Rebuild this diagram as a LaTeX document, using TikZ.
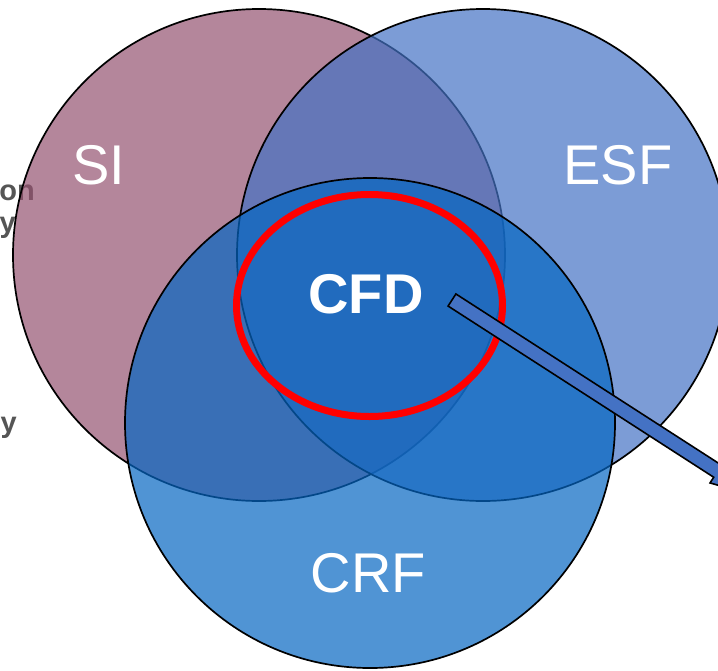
\documentclass[tikz,border=0pt]{standalone}
\usepackage{fontspec}
\setmainfont{Liberation Sans}
\usetikzlibrary{shapes.geometric}
\definecolor{sicol}{RGB}{148,82,112}
\definecolor{esfcol}{RGB}{68,114,196}
\definecolor{crfcol}{RGB}{5,102,194}
\definecolor{arrowcol}{RGB}{68,114,196}
\definecolor{sidegray}{RGB}{85,85,85}
\begin{document}
\begin{tikzpicture}[x=1pt,y=-1pt,
  venn/.style={circle, draw=black, line width=1.7pt, fill opacity=0.7, minimum size=492pt, inner sep=0pt, outer sep=0pt},
  lbl/.style={text=white, font=\fontsize{56}{60}\selectfont, inner sep=0pt},
  sidetxt/.style={text=sidegray, font=\bfseries\fontsize{29}{31}\selectfont, inner sep=0pt, anchor=base east},
  ring/.style={ellipse, draw=red, line width=7pt, minimum width=266pt, minimum height=222pt, inner sep=0pt},
  pointer/.style={fill=arrowcol, draw=black, line width=1.6pt, line join=miter}]
\useasboundingbox (0,0) rectangle (718,670);
\clip (0,0) rectangle (718,670);
% partly hidden side texts
\node[sidetxt] (t1) at (35,200) {on};
\node[sidetxt] (t2) at (16,232) {y};
\node[sidetxt] (t3) at (17,432) {y};
% circles
\node[venn, fill=sicol] (si) at (259,255) {};
\node[venn, fill=esfcol] (esf) at (483,255) {};
\node[venn, fill=crfcol, minimum size=490pt] (crf) at (370,423) {};
% labels
\node[lbl] (silbl) at (99,165) {SI};
\node[lbl] (esflbl) at (618,165) {ESF};
\node[lbl] (crflbl) at (368.5,573) {CRF};
% focus ring
\node[ring] (cfdring) at (369.5,305.5) {};
\node[lbl, font=\bfseries\fontsize{56}{60}\selectfont] (cfd) at (366,294) {CFD};
% block arrow (cut by the picture edge)
\begin{scope}[shift={(452,300)}, rotate=-32.8]
  \draw[pointer] (0,-7.2) -- (316,-7.2) -- (316,-14) -- (362,0) -- (316,14) -- (316,7.2) -- (0,7.2) -- cycle;
\end{scope}
\end{tikzpicture}
\end{document}
